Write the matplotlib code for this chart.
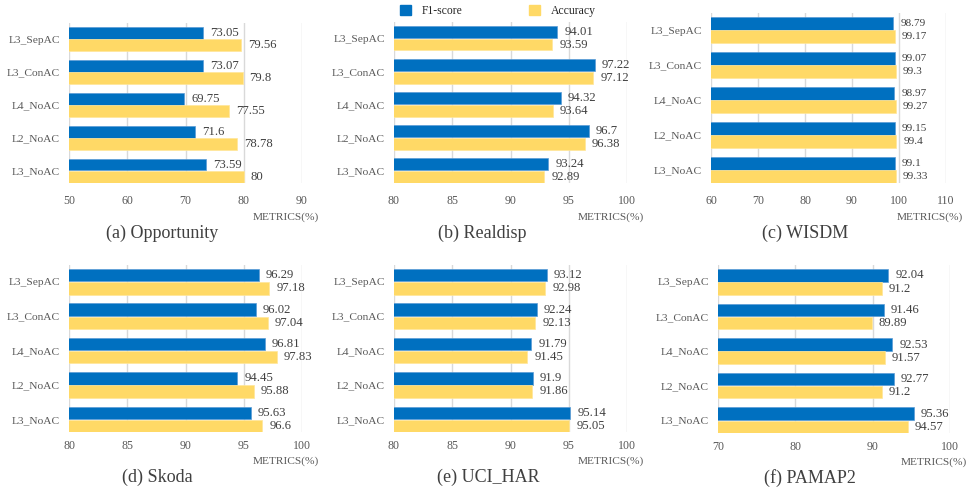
import matplotlib
matplotlib.use("Agg")
import matplotlib.pyplot as plt
from matplotlib.patches import Patch

plt.rcParams['font.family'] = ['Liberation Serif', 'DejaVu Serif']

categories = ["L3_SepAC", "L3_ConAC", "L4_NoAC", "L2_NoAC", "L3_NoAC"]  # top to bottom

titles = ["(a) Opportunity", "(b) Realdisp", "(c) WISDM",
          "(d) Skoda", "(e) UCI_HAR", "(f) PAMAP2"]

f1_opportunity = [73.05, 73.07, 69.75, 71.6, 73.59]
acc_opportunity = [79.56, 79.8, 77.55, 78.78, 80]
f1_realdisp = [94.01, 97.22, 94.32, 96.7, 93.24]
acc_realdisp = [93.59, 97.12, 93.64, 96.38, 92.89]
f1_wisdm = [98.79, 99.07, 98.97, 99.15, 99.1]
acc_wisdm = [99.17, 99.3, 99.27, 99.4, 99.33]
f1_skoda = [96.29, 96.02, 96.81, 94.45, 95.63]
acc_skoda = [97.18, 97.04, 97.83, 95.88, 96.6]
f1_ucihar = [93.12, 92.24, 91.79, 91.9, 95.14]
acc_ucihar = [92.98, 92.13, 91.45, 91.86, 95.05]
f1_pamap2 = [92.04, 91.46, 92.53, 92.77, 95.36]
acc_pamap2 = [91.2, 89.89, 91.57, 91.2, 94.57]

x_ranges = [(50, 90, 10), (80, 100, 5), (60, 110, 10),
            (80, 100, 5), (80, 100, 5), (70, 100, 10)]

f1_all = [f1_opportunity, f1_realdisp, f1_wisdm, f1_skoda, f1_ucihar, f1_pamap2]
acc_all = [acc_opportunity, acc_realdisp, acc_wisdm, acc_skoda, acc_ucihar, acc_pamap2]

BLUE = "#0070C0"
YELLOW = "#FFD966"
GRID = "#D9D9D9"
TICK = "#595959"
VAL = "#404040"

W, H = 969, 491
fig = plt.figure(figsize=(W / 100, H / 100), dpi=100)

# pixel boxes: left, right, top, bottom
boxes = [(69, 302, 23, 183), (394, 627, 22, 183), (711, 946, 13, 183),
         (69, 302, 265, 432), (394, 627, 265, 432), (718, 950, 265, 433)]
title_x = [162, 482, 805, 157, 488, 810]
val_fs = [9.2, 9.2, 8.1, 9.2, 9.2, 9.2]

h = 0.36
for k in range(6):
    l, r, t, b = boxes[k]
    ax = fig.add_axes([l / W, 1 - b / H, (r - l) / W, (b - t) / H])
    n = len(categories)
    ypos = [n - 1 - i for i in range(n)]
    f1 = f1_all[k]
    acc = acc_all[k]
    yb = [y + 0.19 for y in ypos]
    yy = [y - 0.19 for y in ypos]
    ax.barh(yb, f1, height=h, color=BLUE, edgecolor="#5B9BD5", linewidth=0.5, zorder=3)
    ax.barh(yy, acc, height=h, color=YELLOW, edgecolor="#FFE699", linewidth=0.5, zorder=3)
    for y, v in zip(yb, f1):
        ax.annotate(f"{v:g}", xy=(v, y), xytext=(7, 0), textcoords="offset pixels",
                    va="center", ha="left", fontsize=val_fs[k], color=VAL)
    for y, v in zip(yy, acc):
        ax.annotate(f"{v:g}", xy=(v, y), xytext=(7, 0), textcoords="offset pixels",
                    va="center", ha="left", fontsize=val_fs[k], color=VAL)
    x0, x1, st = x_ranges[k]
    ax.set_xlim(x0, x1)
    ax.set_ylim(-0.37, 4.49)
    ticks = list(range(x0, x1 + 1, st))
    ax.set_xticks(ticks)
    ax.set_xticklabels([str(tv) for tv in ticks])
    ax.set_yticks(ypos)
    ax.set_yticklabels(categories)
    ax.tick_params(axis="x", length=0, pad=8.5 if k < 3 else 6, labelsize=8.6, labelcolor=TICK)
    ax.tick_params(axis="y", length=0, pad=6.5, labelsize=8.2, labelcolor=TICK)
    for s in ax.spines.values():
        s.set_visible(False)
    ax.grid(axis="x", color=GRID, linewidth=1, zorder=0)
    ax.set_axisbelow(True)
    ax.annotate("METRICS(%)", xy=(1, 0), xycoords="axes fraction",
                xytext=(17, -34 if k < 3 else -29), textcoords="offset pixels",
                ha="right", va="center", fontsize=8.2, color=TICK)
    fig.text(title_x[k] / W, 1 - (b + (50 if k < 3 else 45)) / H, titles[k],
             ha="center", va="center", fontsize=13, color=VAL)

handles = [Patch(facecolor=BLUE, edgecolor=BLUE), Patch(facecolor=YELLOW, edgecolor=YELLOW)]
fig.legend(handles, ["F1-score", "Accuracy"], loc="upper center",
           bbox_to_anchor=(498 / W, 1.012), ncol=2, frameon=False,
           fontsize=8.4, handlelength=0.95, handleheight=0.95,
           handletextpad=0.95, columnspacing=5.7, labelcolor="#262626")

fig.savefig("out.png", dpi=100, facecolor="white")
